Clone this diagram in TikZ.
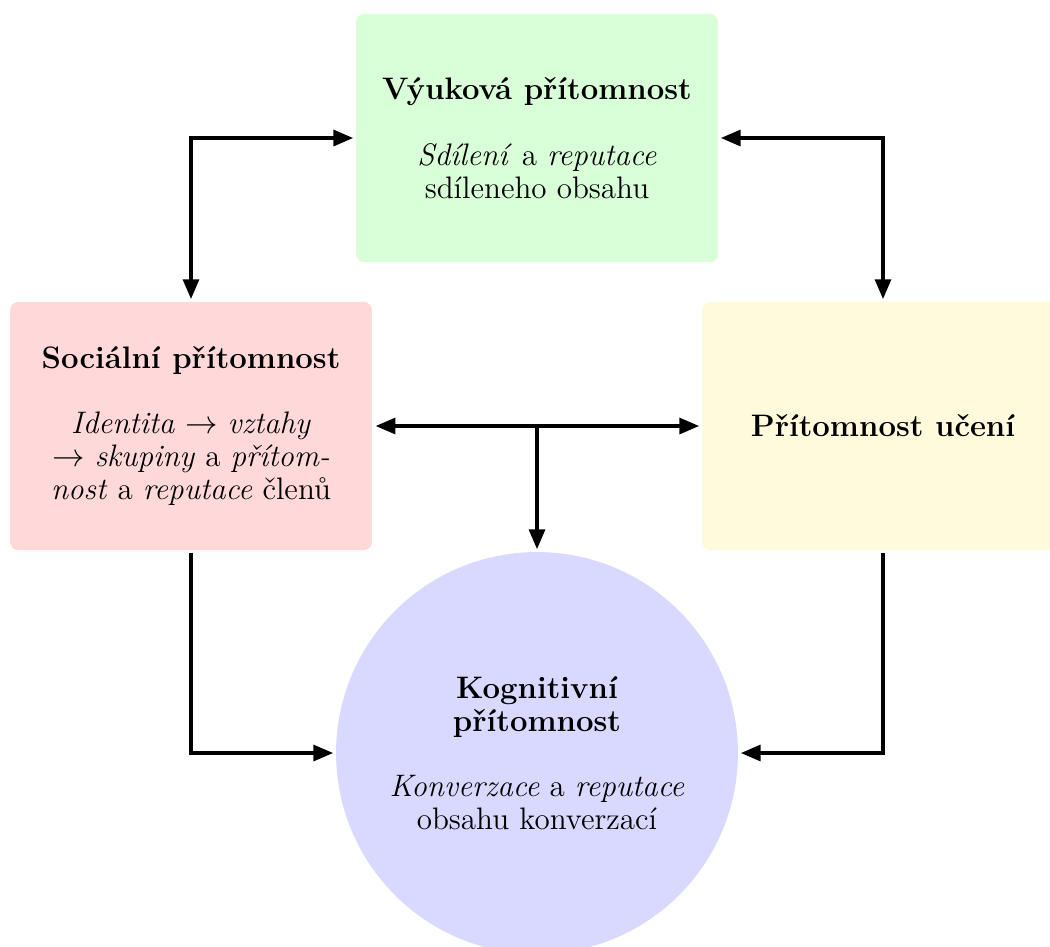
\documentclass[tikz,border=0pt]{standalone}
\usepackage{fontspec}
\usetikzlibrary{arrows.meta}
\definecolor{ylw}{RGB}{255,250,220}
\tikzset{
  box/.style={rounded corners=3pt, minimum width=133.9pt, minimum height=91.8pt, align=center, inner sep=0pt, font=\fontsize{11.5pt}{12.2pt}\selectfont},
  circ/.style={circle, minimum size=148.7pt, align=center, inner sep=0pt, font=\fontsize{11.5pt}{12.2pt}\selectfont},
  conn/.style={line width=1.5pt, shorten <=0.8pt, shorten >=0.8pt},
  tip/.tip={Triangle[length=7.4pt,width=5.8pt]}
}
\begin{document}
\begin{tikzpicture}[x=0.37pt,y=-0.37pt]
\useasboundingbox (0,0) rectangle (1050,946);
\node[box, fill=green!15] (vy) at (537,138)
  {\textbf{Výuková přítomnost}\\[12pt]\textit{Sdílení} a \textit{reputace}\\sdíleneho obsahu};
\node[box, fill=red!15] (so) at (191,426)
  {\textbf{Sociální přítomnost}\\[12pt]\textit{Identita} $\rightarrow$ \textit{vztahy}\\$\rightarrow$ \textit{skupiny} a \textit{přítom-}\\\textit{nost} a \textit{reputace} členů};
\node[box, fill=ylw] (uc) at (883,426) {\textbf{Přítomnost učení}};
\node[circ, fill=blue!15] (kg) at (537,753)
  {\textbf{Kognitivní}\\\textbf{přítomnost}\\[12pt]\textit{Konverzace} a \textit{reputace}\\obsahu konverzací};
\coordinate (mid) at (537,427);
\draw[conn, tip-tip] (so.north) |- (vy.west);
\draw[conn, tip-tip] (vy.east) -| (uc.north);
\draw[conn, tip-tip, shorten <=1.1pt, shorten >=0.8pt] (so.east) -- (uc.west);
\draw[conn, -tip, shorten <=0pt] (mid) -- (kg.north);
\draw[conn, -tip] (so.south) |- (kg.west);
\draw[conn, -tip] (uc.south) |- (kg.east);
\end{tikzpicture}
\end{document}
